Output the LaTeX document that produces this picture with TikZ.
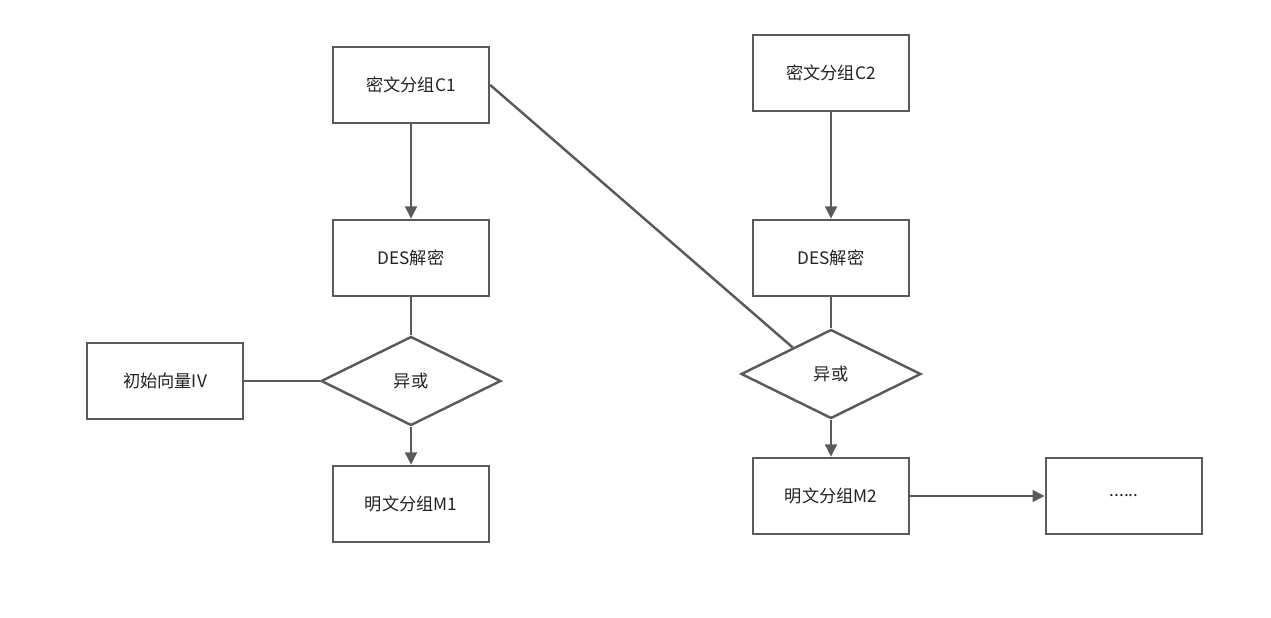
\documentclass[tikz,border=0pt]{standalone}
\usepackage{fontspec}
\setmainfont{Noto Sans CJK SC}
\usetikzlibrary{shapes.geometric,arrows.meta,calc}
\definecolor{ln}{HTML}{5A5A5A}
\definecolor{tx}{HTML}{222222}
\begin{document}
\begin{tikzpicture}[x=0.02cm,y=-0.02cm,
  box/.style={draw=ln,line width=1.4pt,minimum width=3.12cm,minimum height=1.52cm,inner sep=0,text=tx,font=\fontsize{9.8pt}{11pt}\selectfont},
  dia/.style={draw=ln,line width=1.4pt,shape=diamond,minimum width=3.6cm,minimum height=1.78cm,inner sep=0,aspect=2,text=tx,font=\fontsize{9.8pt}{11pt}\selectfont},
  con/.style={draw=ln,line width=1.4pt},
  arr/.style={con,-{Triangle[length=7pt,width=6.6pt]}}]
\useasboundingbox (0,0) rectangle (1271,618);
\node[box] (c1) at (411,85) {密文分组C1};
\node[box] (des1) at (411,258) {DES解密};
\node[dia] (x1) at (411,381) {异或};
\node[box] (iv) at (165,381) {初始向量IV};
\node[box] (m1) at (411,504) {明文分组M1};
\node[box] (c2) at (831,73) {密文分组C2};
\node[box] (des2) at (831,258) {DES解密};
\node[dia] (x2) at (831,374) {异或};
\node[box] (m2) at (831,496) {明文分组M2};
\node[box] (dots) at (1124,496) {......};
\coordinate (x2e) at ($(x2.west)!0.58!(x2.north)$);
\draw[arr] (c1) -- (des1);
\draw[con] (des1) -- (x1);
\draw[con] (iv) -- (x1);
\draw[arr] (x1) -- (m1);
\draw[con] (c1.east) -- (x2e);
\draw[arr] (c2) -- (des2);
\draw[con] (des2) -- (x2);
\draw[arr] (x2) -- (m2);
\draw[arr] (m2) -- (dots);
\end{tikzpicture}
\end{document}
